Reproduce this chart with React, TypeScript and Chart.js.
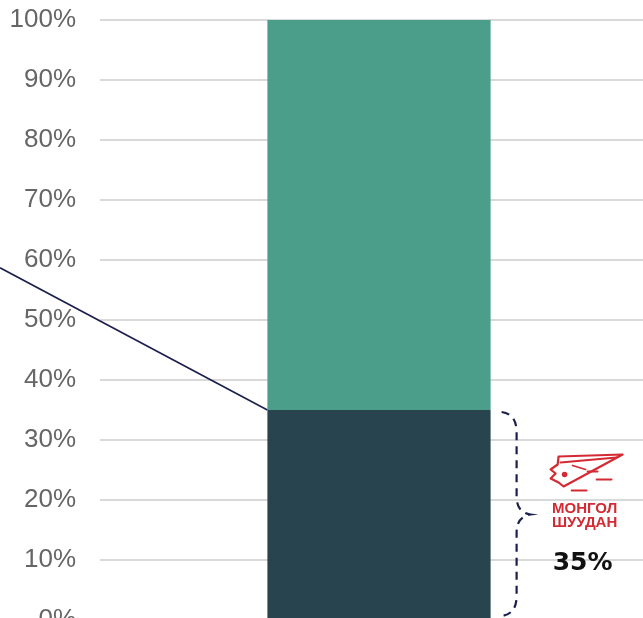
import React, { useEffect, useRef } from "react";
import { Chart, registerables } from "chart.js";

Chart.register(...registerables);

const categories = ["Монгол Шуудан"];
const seriesNames = ["Монгол Шуудан", "Бусад"];
const shareValues = [35];
const otherValues = [65];
const tickStep = 10;
const axisMax = 100;
const connectorStartValue = 58.7;
const calloutLogoLines = ["МОНГОЛ", "ШУУДАН"];
const calloutLabel = "35%";

const DARK = "#27444f";
const GREEN = "#4a9e8a";
const NAVY = "#1c1f4d";
const RED = "#d42a33";

const annotationPlugin = {
  id: "annotations",
  afterDatasetsDraw(chart: any) {
    const ctx = chart.ctx;
    const yScale = chart.scales.y;
    const meta = chart.getDatasetMeta(0);
    const bar = meta.data[0];
    if (!bar) return;
    const barLeft = bar.x - bar.width / 2;
    const barRight = bar.x + bar.width / 2;
    const topY = bar.y;
    const baseY = bar.base;

    // connector line
    ctx.save();
    ctx.strokeStyle = NAVY;
    ctx.lineWidth = 1.6;
    ctx.beginPath();
    ctx.moveTo(0, yScale.getPixelForValue(connectorStartValue));
    ctx.lineTo(barLeft, topY);
    ctx.stroke();
    ctx.restore();

    // dashed brace
    const bx0 = barRight + 11;
    const bx1 = barRight + 26;
    const tip = barRight + 40;
    const t = topY + 2;
    const b = baseY - 3;
    const mid = (topY + baseY) / 2;
    ctx.save();
    ctx.strokeStyle = NAVY;
    ctx.lineWidth = 2.2;
    ctx.setLineDash([8, 6]);
    ctx.beginPath();
    ctx.moveTo(bx0, t);
    ctx.quadraticCurveTo(bx1, t + 2, bx1, t + 20);
    ctx.lineTo(bx1, mid - 18);
    ctx.quadraticCurveTo(bx1, mid - 2, tip, mid);
    ctx.quadraticCurveTo(bx1, mid + 2, bx1, mid + 18);
    ctx.lineTo(bx1, b - 20);
    ctx.quadraticCurveTo(bx1, b - 2, bx0, b);
    ctx.stroke();
    ctx.restore();

    // logo
    const lx = barRight + 57;
    const ly = mid - 63;
    ctx.save();
    ctx.strokeStyle = RED;
    ctx.fillStyle = RED;
    ctx.lineWidth = 2.2;
    ctx.lineJoin = "round";
    ctx.lineCap = "round";
    ctx.beginPath();
    ctx.moveTo(lx + 11, ly + 5);
    ctx.lineTo(lx + 75, ly + 3);
    ctx.lineTo(lx + 16, ly + 35);
    ctx.lineTo(lx + 11, ly + 31);
    ctx.lineTo(lx + 3, ly + 27);
    ctx.lineTo(lx + 8, ly + 22);
    ctx.lineTo(lx + 3, ly + 18);
    ctx.lineTo(lx + 10, ly + 13);
    ctx.closePath();
    ctx.stroke();
    ctx.beginPath();
    ctx.moveTo(lx + 13, ly + 11);
    ctx.lineTo(lx + 69, ly + 6);
    ctx.stroke();
    ctx.lineWidth = 1.8;
    ctx.beginPath();
    ctx.moveTo(lx + 25, ly + 14);
    ctx.lineTo(lx + 38, ly + 18);
    ctx.moveTo(lx + 40, ly + 20);
    ctx.lineTo(lx + 50, ly + 20);
    ctx.moveTo(lx + 49, ly + 28);
    ctx.lineTo(lx + 64, ly + 28);
    ctx.moveTo(lx + 24, ly + 39);
    ctx.lineTo(lx + 39, ly + 39);
    ctx.stroke();
    ctx.beginPath();
    ctx.arc(lx + 17, ly + 23, 2.8, 0, Math.PI * 2);
    ctx.fill();

    ctx.textAlign = "center";
    ctx.textBaseline = "middle";
    ctx.font = "bold 15px 'Liberation Sans', Arial, sans-serif";
    const cx = lx + 37;
    ctx.fillText(calloutLogoLines[0], cx, mid - 6, 72);
    ctx.fillText(calloutLogoLines[1], cx, mid + 8, 72);

    ctx.fillStyle = "#111";
    ctx.font = "bold 25px 'DejaVu Sans', sans-serif";
    ctx.fillText(calloutLabel, cx - 2, mid + 49);
    ctx.restore();
  },
};

export default function App() {
  const ref = useRef<HTMLCanvasElement | null>(null);
  useEffect(() => {
    if (!ref.current) return;
    const chart = new Chart(ref.current, {
      type: "bar",
      data: {
        labels: categories,
        datasets: [
          {
            label: seriesNames[0],
            data: shareValues,
            backgroundColor: DARK,
            barPercentage: 0.8,
            categoryPercentage: 0.5,
          },
          {
            label: seriesNames[1],
            data: otherValues,
            backgroundColor: GREEN,
            barPercentage: 0.8,
            categoryPercentage: 0.5,
          },
        ],
      },
      options: {
        animation: false,
        responsive: true,
        maintainAspectRatio: false,
        layout: { padding: { top: 20, bottom: 40, left: 0, right: 0 } },
        plugins: { legend: { display: false }, tooltip: { enabled: false } },
        scales: {
          x: { stacked: true, display: false },
          y: {
            stacked: true,
            min: 0,
            max: axisMax,
            border: { display: false },
            grid: {
              color: "#d9d9d9",
              lineWidth: 2,
              drawTicks: true,
              tickLength: 24,
              tickColor: "rgba(0,0,0,0)",
            },
            ticks: {
              stepSize: tickStep,
              padding: 0,
              color: "#666666",
              font: { family: "'Liberation Sans', Arial, sans-serif", size: 26 },
              callback: (v: any) => v + "%",
            },
            afterFit: (scale: any) => {
              scale.width = 100;
            },
          },
        },
      },
      plugins: [annotationPlugin],
    });
    return () => chart.destroy();
  }, []);
  return (
    <div
      style={{
        position: "fixed",
        left: 0,
        top: 0,
        width: 643,
        height: 618,
        overflow: "hidden",
        background: "#fff",
      }}
    >
      <div style={{ position: "relative", width: 658, height: 660 }}>
        <canvas ref={ref} />
      </div>
    </div>
  );
}
